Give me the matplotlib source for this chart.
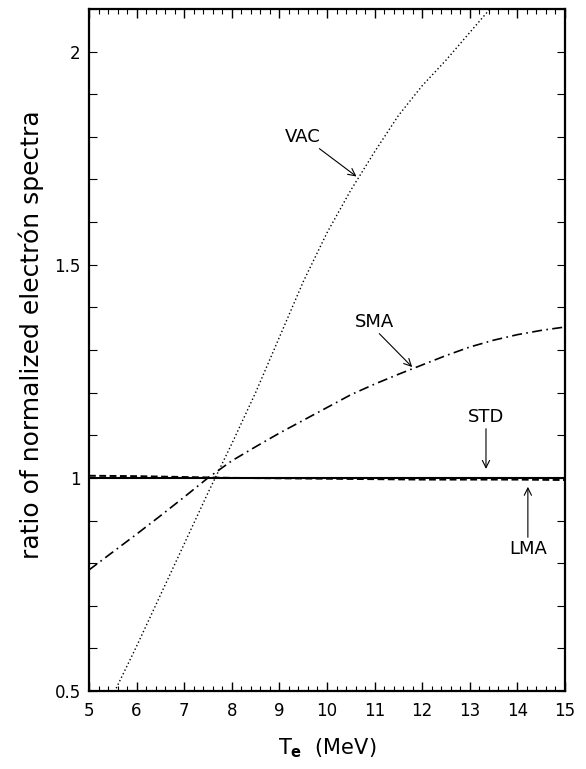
import matplotlib
matplotlib.use("Agg")
import matplotlib.pyplot as plt
from matplotlib.ticker import MultipleLocator, FuncFormatter

# ---- data ----
T_std = [5.0, 15.0]
R_std = [1.0, 1.0]

T_lma = [5.0, 6.0, 7.0, 8.0, 9.0, 10.0, 11.0, 12.0, 13.0, 14.0, 15.0]
R_lma = [1.005, 1.004, 1.002, 1.000, 0.999, 0.998, 0.997, 0.996, 0.996, 0.996, 0.995]

T_sma = [5.0, 5.5, 6.0, 6.5, 7.0, 7.5, 8.0, 8.5, 9.0, 9.5, 10.0, 10.5, 11.0,
         11.5, 12.0, 12.5, 13.0, 13.5, 14.0, 14.5, 15.0]
R_sma = [0.784, 0.826, 0.868, 0.911, 0.955, 1.000, 1.040, 1.073, 1.105, 1.135,
         1.165, 1.195, 1.220, 1.243, 1.265, 1.287, 1.307, 1.323, 1.336, 1.346, 1.354]

T_vac = [5.5, 6.0, 6.5, 7.0, 7.5, 8.0, 8.5, 9.0, 9.5, 10.0, 10.5, 11.0, 11.5,
         12.0, 12.5, 13.0, 13.5, 14.0]
R_vac = [0.490, 0.605, 0.725, 0.845, 0.965, 1.080, 1.200, 1.330, 1.460, 1.575,
         1.675, 1.765, 1.850, 1.920, 1.980, 2.045, 2.110, 2.170]

x_ticks = [5, 6, 7, 8, 9, 10, 11, 12, 13, 14, 15]
y_ticks = [0.5, 1.0, 1.5, 2.0]

plt.rcParams['font.family'] = ['DejaVu Sans']
plt.rcParams['mathtext.fontset'] = 'dejavusans'

fig = plt.figure(figsize=(5.86, 7.69), dpi=100)
ax = fig.add_axes([89/586, 1-691/769, 476/586, 682/769])

ax.plot(T_std, R_std, color='black', lw=1.5, ls='-')
ax.plot(T_lma, R_lma, color='black', lw=1.4, ls=(0, (3.5, 1.8)))
ax.plot(T_sma, R_sma, color='black', lw=1.2, ls=(0, (6, 2.6, 1.0, 2.6)))
ax.plot(T_vac, R_vac, color='black', lw=1.0, ls=(0, (1, 1.8)))

ax.set_xlim(5, 15)
ax.set_ylim(0.5, 2.1)

ax.set_xticks(x_ticks)
ax.xaxis.set_minor_locator(MultipleLocator(0.2))
ax.set_yticks(y_ticks)
ax.yaxis.set_minor_locator(MultipleLocator(0.1))
ax.yaxis.set_major_formatter(FuncFormatter(lambda v, p: '%g' % v))

ax.tick_params(axis='x', which='major', direction='in', length=6.5, width=1.0,
               top=True, bottom=True, labelsize=12, pad=8)
ax.tick_params(axis='x', which='minor', direction='in', length=3.5, width=0.8,
               top=True, bottom=True)
ax.tick_params(axis='y', which='major', direction='in', length=5.5, width=0.8,
               left=True, right=True, labelsize=12, pad=6)
ax.tick_params(axis='y', which='minor', direction='in', length=5.5, width=0.8,
               left=True, right=True)

for s in ax.spines.values():
    s.set_linewidth(1.6)

ax.set_xlabel(r'T$_{\mathbf{e}}$  (MeV)', fontsize=15, va='top')
ax.xaxis.set_label_coords(0.5, -0.066)
ax.set_ylabel('ratio of normalized electrón spectra', fontsize=18)
ax.yaxis.set_label_coords(-0.095, 0.522)

arrow = dict(arrowstyle='->', lw=0.8, color='black', shrinkA=0, shrinkB=0,
             mutation_scale=13)
ax.annotate('VAC', xy=(10.62, 1.707), xytext=(9.5, 1.80), fontsize=13,
            ha='center', va='center', arrowprops=dict(arrow, relpos=(0.85, 0.0)))
ax.annotate('SMA', xy=(11.79, 1.26), xytext=(11.0, 1.366), fontsize=13,
            ha='center', va='center', arrowprops=dict(arrow, relpos=(0.55, 0.0)))
ax.annotate('STD', xy=(13.34, 1.021), xytext=(13.34, 1.143), fontsize=13,
            ha='center', va='center', arrowprops=dict(arrow, relpos=(0.5, 0.0)))
ax.annotate('LMA', xy=(14.22, 0.979), xytext=(14.22, 0.833), fontsize=13,
            ha='center', va='center', arrowprops=dict(arrow, relpos=(0.5, 1.0)))

fig.savefig('out.png', dpi=100)
